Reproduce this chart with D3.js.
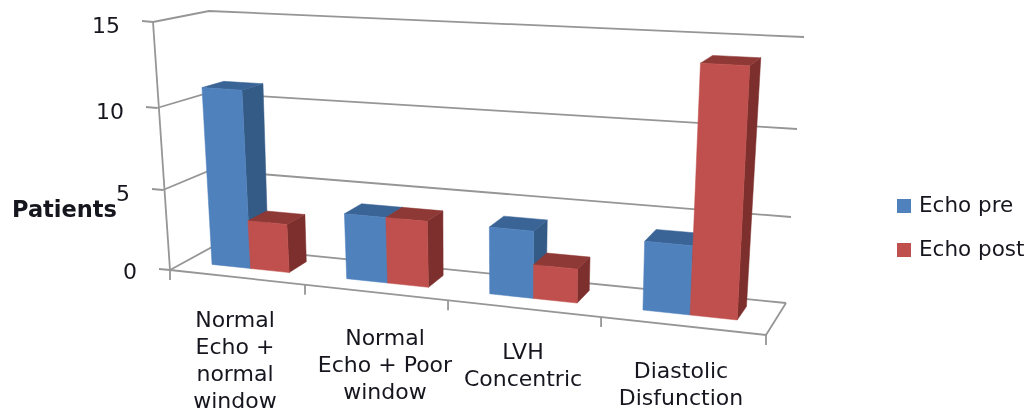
<!DOCTYPE html>
<html>
<head>
<meta charset="utf-8">
<script src="https://cdn.jsdelivr.net/npm/d3@7"></script>
<style>
  html, body { margin: 0; padding: 0; background: #fff; }
  svg { display: block; filter: blur(0.7px); }
  text { font-family: "DejaVu Sans", sans-serif; fill: #16161f; }
</style>
</head>
<body>
<svg id="chart" width="1029" height="414"></svg>
<script>
// values
const categories = [
  ['Normal', 'Echo +', 'normal', 'window'],
  ['Normal', 'Echo + Poor', 'window'],
  ['LVH', 'Concentric'],
  ['Diastolic', 'Disfunction'],
];
const echoPre = [11, 4, 4, 4];
const echoPost = [3, 4, 2, 14];
const valueTicks = [0, 5, 10, 15];
const seriesNames = ['Echo pre', 'Echo post'];

const svg = d3.select('#chart');

// --- projection of the 3D box, fitted to its four upright edges ---
const corner = (xs, ys) => ({
  x: d3.scaleLinear().domain(valueTicks).range(xs),
  y: d3.scaleLinear().domain(valueTicks).range(ys),
});
const frontLeft = corner([170, 163, 157, 153], [270, 190, 108, 22]);
const backLeft = corner([214, 211, 208, 209], [246, 170, 93, 11]);
const frontRight = corner([766, 770, 774, 780], [335, 246, 152, 55]);
const backRight = corner([786, 791, 797, 804], [303, 217, 129, 37]);

// categories get wider towards the viewer
const across = d3.scaleLinear().domain([0, 1, 2, 3, 4]).range([0, 0.2265, 0.4665, 0.7233, 1]);

function project(u, v, h) {
  const s = across(u);
  const mix = (k) => {
    const front = frontLeft[k](h) * (1 - s) + frontRight[k](h) * s;
    const back = backLeft[k](h) * (1 - s) + backRight[k](h) * s;
    return front * (1 - v) + back * v;
  };
  return [mix('x'), mix('y')];
}

const pathOf = d3.line();
const gridColor = '#969696';

function wire(points, width) {
  svg.append('path')
    .attr('d', pathOf(points))
    .attr('fill', 'none')
    .attr('stroke', gridColor)
    .attr('stroke-width', width || 1.8);
}

// walls and floor
valueTicks.forEach(h => {
  wire([project(0, 0, h), project(0, 1, h), project(4, 1, h)]);
  const [x, y] = project(0, 0, h);
  wire([[x - 11, y - 1], [x, y]]);
});
wire([project(0, 0, 0), project(0, 0, 15)]);
wire([project(0, 0, 0), project(4, 0, 0), project(4, 1, 0)]);
d3.range(5).forEach(u => {
  const [x, y] = project(u, 0, 0);
  wire([[x, y], [x, y + 10]]);
});

// --- bars ---
const barFront = 0.35, barBack = 0.78;
const seriesSlots = [[0.2, 0.49], [0.49, 0.78]];
const shades = [
  { front: '#4f81bd', side: '#345a86', top: '#3a6496' },
  { front: '#c0504d', side: '#7d2f2d', top: '#8f3936' },
];

function drawBar(i, value, series) {
  const [a, b] = seriesSlots[series];
  const c = shades[series];
  const face = (pts, fill) => svg.append('path')
    .attr('d', pathOf(pts) + 'Z')
    .attr('fill', fill)
    .attr('stroke', fill)
    .attr('stroke-width', 0.5);
  face([project(i + b, barFront, 0), project(i + b, barBack, 0),
        project(i + b, barBack, value), project(i + b, barFront, value)], c.side);
  face([project(i + a, barFront, value), project(i + b, barFront, value),
        project(i + b, barBack, value), project(i + a, barBack, value)], c.top);
  face([project(i + a, barFront, 0), project(i + b, barFront, 0),
        project(i + b, barFront, value), project(i + a, barFront, value)], c.front);
}

categories.forEach((_, i) => {
  drawBar(i, echoPre[i], 0);
  drawBar(i, echoPost[i], 1);
});

// --- text ---
valueTicks.forEach(h => {
  const [x, y] = project(0, 0, h);
  svg.append('text')
    .attr('x', x - 33)
    .attr('y', y + (h === 0 ? 9 : 11))
    .attr('text-anchor', 'end')
    .attr('font-size', 22)
    .text(h);
});

svg.append('text')
  .attr('x', 12).attr('y', 217)
  .attr('font-size', 22.5)
  .attr('font-weight', 700)
  .text('Patients');

const labelX = [235, 385, 523, 681];
const labelY = [320, 338, 352, 371];
categories.forEach((lines, i) => {
  lines.forEach((line, j) => {
    svg.append('text')
      .attr('x', labelX[i])
      .attr('y', labelY[i] + j * 27 + 7)
      .attr('text-anchor', 'middle')
      .attr('font-size', 22)
      .text(line);
  });
});

seriesNames.forEach((name, i) => {
  const y = 199 + i * 44;
  svg.append('rect')
    .attr('x', 897).attr('y', y)
    .attr('width', 14).attr('height', 14)
    .attr('fill', shades[i].front);
  svg.append('text')
    .attr('x', 919).attr('y', y + 13)
    .attr('font-size', 21.5)
    .text(name);
});
</script>
</body>
</html>
